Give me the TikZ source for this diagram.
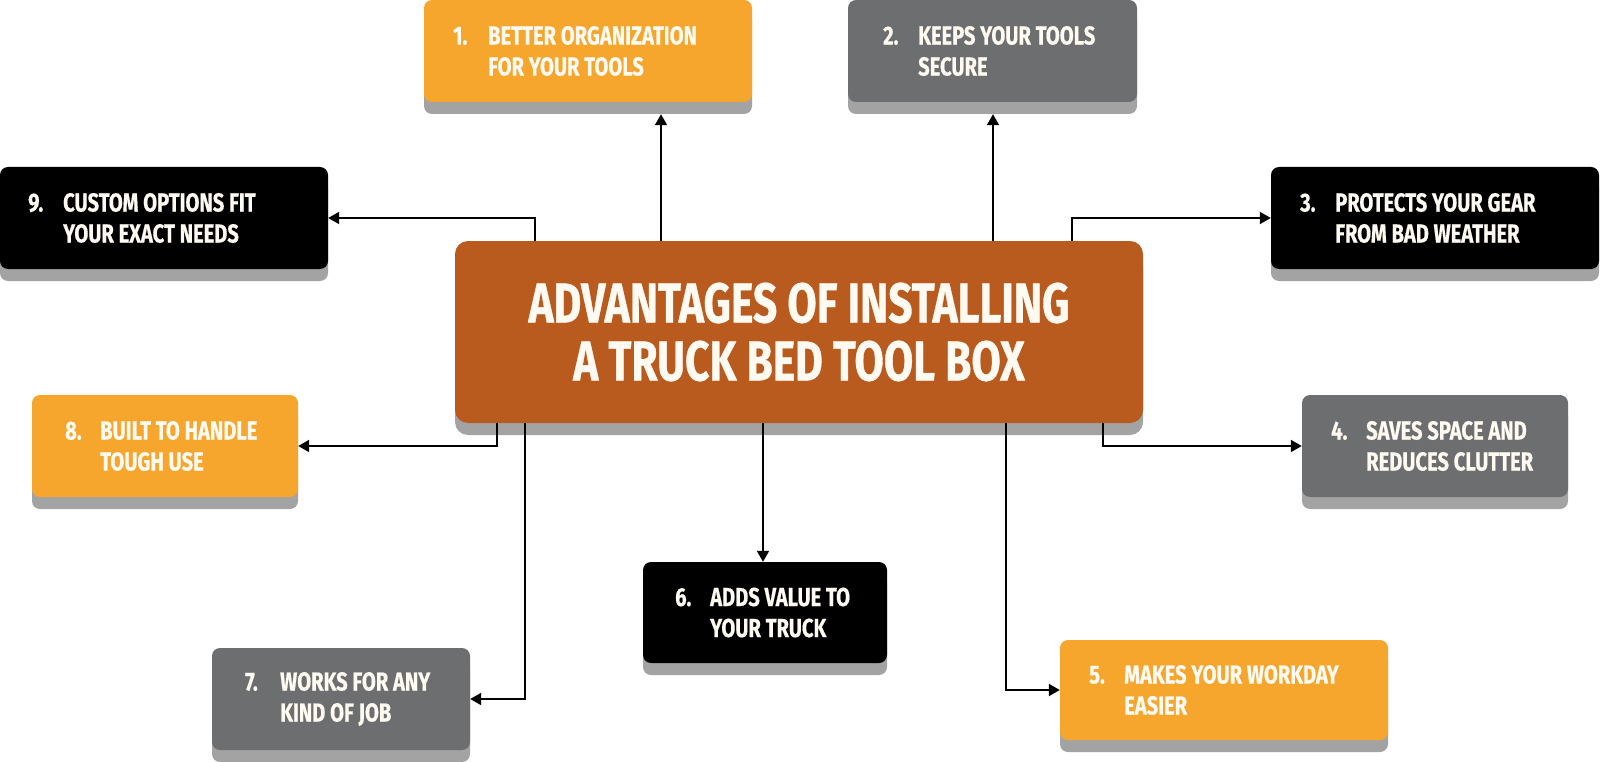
\documentclass[tikz,border=0pt]{standalone}
\usepackage{fontspec}
\newfontfamily\cond{Fira Sans}[FakeStretch=0.775,FakeBold=0.6]
\newfontfamily\condc{Fira Sans}[FakeStretch=0.76,FakeBold=0.6]
\usetikzlibrary{arrows.meta,calc}
\definecolor{orangeb}{HTML}{F6A52D}
\definecolor{grayb}{HTML}{6D6E70}
\definecolor{blackb}{HTML}{000000}
\definecolor{ctrc}{HTML}{B95A1E}
\definecolor{shadc}{HTML}{A3A3A3}
\definecolor{txtc}{HTML}{FFFBF2}
\newcommand{\itm}[3]{\makebox[35pt][l]{#1}#2\\\hspace*{35pt}#3}
\begin{document}
\begin{tikzpicture}[x=1pt,y=-1pt,
  boxst/.style={rectangle,rounded corners=8pt,inner sep=0pt,draw=none},
  shad/.style={boxst,fill=shadc},
  txt/.style={inner sep=0pt,anchor=west,align=left,text=txtc,
    font=\cond\bfseries\fontsize{26}{31}\selectfont},
  arr/.style={line width=2pt,-{Triangle[length=11pt,width=12pt]}},
  ln/.style={line width=2pt}]
\useasboundingbox (0,0) rectangle (1600,762);
% helper: shadow + box
\newcommand{\mybox}[6]{%
  \node[shad,minimum width=#5pt,minimum height=#6pt] (#1s) at (#3,#4+12) {};
  \node[boxst,fill=#2,minimum width=#5pt,minimum height=#6pt] (#1) at (#3,#4) {};}
\mybox{b1}{orangeb}{588}{51}{328}{102}
\mybox{b2}{grayb}{992.5}{51}{289}{102}
\mybox{b9}{blackb}{164}{218}{328}{102}
\mybox{b3}{blackb}{1435}{218}{328}{102}
\mybox{b8}{orangeb}{165}{446}{266}{102}
\mybox{b4}{grayb}{1435}{446}{266}{102}
\mybox{b6}{blackb}{765}{612.5}{244}{101}
\mybox{b7}{grayb}{341}{699}{258}{102}
\mybox{b5}{orangeb}{1224}{690}{328}{100}
% center
\node[shad,rounded corners=13pt,minimum width=688pt,minimum height=182pt] (ctrs) at (799,344) {};
% x positions of connectors
\coordinate (x1) at (661,0);
\coordinate (x2) at (993,0);
\coordinate (x9) at (535,0);
\coordinate (x3) at (1072,0);
\coordinate (x8) at (497,0);
\coordinate (x4) at (1103,0);
\coordinate (x6) at (763,0);
\coordinate (x7) at (525,0);
\coordinate (x5) at (1006,0);
\node[boxst,rounded corners=13pt,fill=ctrc,minimum width=688pt,minimum height=182pt,
  text=txtc,align=center,font=\condc\bfseries\fontsize{56}{58}\selectfont] (ctr) at (799,332)
  {ADVANTAGES OF INSTALLING\\A TRUCK BED TOOL BOX};
% connectors
\draw[arr] (ctr.north -| x1) -- (b1s.south -| x1);
\draw[arr] (ctr.north -| x2) -- (b2s.south -| x2);
\draw[arr] (ctr.north -| x9) |- (b9.east);
\draw[arr] (ctr.north -| x3) |- (b3.west);
\draw[arr] (ctr.south -| x8) |- (b8.east);
\draw[arr] (ctr.south -| x4) |- (b4.west);
\draw[arr] (ctr.south -| x6) -- (b6.north -| x6);
\draw[arr] (ctr.south -| x7) |- (b7.east);
\draw[arr] (ctr.south -| x5) |- (b5.west);
% texts
\node[txt] (t1) at (453,51) {\itm{1.}{BETTER ORGANIZATION}{FOR YOUR TOOLS}};
\node[txt] (t2) at (883,51) {\itm{2.}{KEEPS YOUR TOOLS}{SECURE}};
\node[txt] (t9) at (28,218) {\itm{9.}{CUSTOM OPTIONS FIT}{YOUR EXACT NEEDS}};
\node[txt] (t3) at (1300,218) {\itm{3.}{PROTECTS YOUR GEAR}{FROM BAD WEATHER}};
\node[txt] (t8) at (65,446) {\itm{8.}{BUILT TO HANDLE}{TOUGH USE}};
\node[txt] (t4) at (1331,446) {\itm{4.}{SAVES SPACE AND}{REDUCES CLUTTER}};
\node[txt] (t6) at (675,612.5) {\itm{6.}{ADDS VALUE TO}{YOUR TRUCK}};
\node[txt] (t7) at (245,699) {\itm{7.}{WORKS FOR ANY}{KIND OF JOB}};
\node[txt] (t5) at (1089,690) {\itm{5.}{MAKES YOUR WORKDAY}{EASIER}};
\end{tikzpicture}
\end{document}
